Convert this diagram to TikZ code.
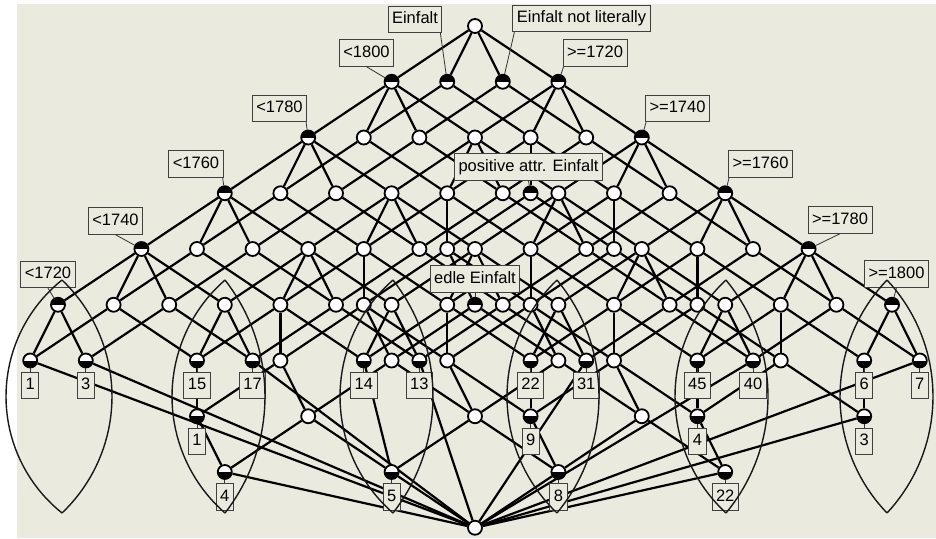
\documentclass[tikz,border=0pt]{standalone}
\usepackage{fontspec}
\setmainfont{Liberation Sans}
\pgfdeclarelayer{back}
\pgfdeclarelayer{edges}
\pgfsetlayers{back,edges,main}
% one pointed lens: top x, left bulge, right bulge
\newcommand\drawlens[3]{%
  \pgfmathsetmacro\rL{(116.5/#2*116.5+#2)/2}%
  \pgfmathsetmacro\aL{asin(116.5/\rL)}%
  \pgfmathsetmacro\rR{(116.5/#3*116.5+#3)/2}%
  \pgfmathsetmacro\aR{asin(116.5/\rR)}%
  \draw[lensline] plot[domain=-\aL:\aL,samples=41] ({#1+\rL-#2-\rL*cos(\x)},{396.5+\rL*sin(\x)});
  \draw[lensline] plot[domain=-\aR:\aR,samples=41] ({#1-\rR+#3+\rR*cos(\x)},{396.5+\rR*sin(\x)});
}
\begin{document}
\begin{tikzpicture}[x=1pt,y=-1pt]
\definecolor{paper}{RGB}{234,234,222}
\tikzset{
  conc/.style={circle, draw=black, line width=1.8pt, fill=white, minimum size=14pt, inner sep=0pt},
  attrc/.style={path picture={\fill[black] (path picture bounding box.west) rectangle (path picture bounding box.north east);}},
  objc/.style={path picture={\fill[black] (path picture bounding box.south west) rectangle (path picture bounding box.east);}},
  edge/.style={line width=2.2pt, black},
  tag/.style={draw=black!75, line width=0.9pt, fill=paper, font=\fontsize{16.5pt}{18pt}\selectfont,
    inner xsep=4pt, inner ysep=0pt, text height=12pt, text depth=3.5pt, minimum height=26.5pt},
  tagline/.style={line width=0.8pt, black!80},
  lensline/.style={line width=1.4pt, black!90},
  % attribute concepts
  st-O15/.style=attrc, st-O14/.style=attrc, st-O13/.style=attrc, st-O12/.style=attrc, st-O11/.style=attrc,
  st-O26/.style=attrc, st-O36/.style=attrc, st-O46/.style=attrc, st-O56/.style=attrc, st-O66/.style=attrc,
  st-E16/.style=attrc, st-N16/.style=attrc, st-P26/.style=attrc, st-D25/.style=attrc,
  % object concepts
  st-E11/.style=objc, st-N11/.style=objc,
  st-E22/.style=objc, st-N22/.style=objc, st-P22/.style=objc, st-D22/.style=objc,
  st-E33/.style=objc, st-N33/.style=objc, st-D33/.style=objc,
  st-E44/.style=objc, st-N44/.style=objc, st-P44/.style=objc, st-D44/.style=objc,
  st-E55/.style=objc, st-N55/.style=objc, st-P55/.style=objc, st-D55/.style=objc,
  st-E66/.style=objc, st-N66/.style=objc, st-P66/.style=objc,
}
\useasboundingbox (0,0) rectangle (936,538);
\begin{pgfonlayer}{back}
  \fill[white] (0,0) rectangle (936,538);
  \fill[paper] (17,4) rectangle (936,538);
\end{pgfonlayer}

% concepts: time interval [i,j] combined with O (none), E, N, P (E+P), D (E+P+D)
\def\skipkey{P33}
\foreach \S/\dk/\dr/\lo/\hi in {O/0/0/1/6, E/-1/1/1/6, N/1/1/1/6, P/-1/2/2/6, D/0/3/2/5}{
  \foreach \i in {\lo,...,\hi}{
    \foreach \j in {\i,...,\hi}{
      \edef\key{\S\i\j}%
      \ifx\key\skipkey\else
        \pgfmathsetmacro\xx{475+27.8*(3*(\i+\j-7)+(\dk))}%
        \pgfmathsetmacro\yy{26+55.75*(5-\j+\i+(\dr))}%
        \edef\mk{\noexpand\node[conc,st-\key/.try] (c\key) at (\xx,\yy) {};}%
        \mk
      \fi
    }
  }
}
\node[conc] (bot) at (475,527.75) {};

\begin{pgfonlayer}{edges}
  \foreach \S in {O,E,N}{
    \foreach \i in {1,...,6}{
      \foreach \j in {\i,...,6}{
        \pgfmathtruncatemacro\im{\i-1}%
        \pgfmathtruncatemacro\jp{\j+1}%
        \ifnum\i>1 \draw[edge] (c\S\i\j) -- (c\S\im\j); \fi
        \ifnum\j<6 \draw[edge] (c\S\i\j) -- (c\S\i\jp); \fi
      }
    }
  }
  \foreach \S in {E,N}{
    \foreach \i in {1,...,6}{
      \foreach \j in {\i,...,6}{
        \draw[edge] (c\S\i\j) -- (cO\i\j);
      }
    }
  }
  \foreach \i in {2,...,6}{
    \foreach \j in {\i,...,6}{
      \pgfmathtruncatemacro\im{\i-1}%
      \pgfmathtruncatemacro\jp{\j+1}%
      \ifnum\i\j=33 \else
        \draw[edge] (cP\i\j) -- (cE\i\j);
        \ifnum\i>2 \draw[edge] (cP\i\j) -- (cP\im\j); \fi
        \ifnum\j<6 \draw[edge] (cP\i\j) -- (cP\i\jp); \fi
      \fi
    }
  }
  \foreach \i in {2,...,5}{
    \foreach \j in {\i,...,5}{
      \pgfmathtruncatemacro\im{\i-1}%
      \pgfmathtruncatemacro\jp{\j+1}%
      \ifnum\i\j=33 \draw[edge] (cD33) -- (cE33); \else \draw[edge] (cD\i\j) -- (cP\i\j); \fi
      \ifnum\i>2 \draw[edge] (cD\i\j) -- (cD\im\j); \fi
      \ifnum\j<5 \draw[edge] (cD\i\j) -- (cD\i\jp); \fi
    }
  }
  \foreach \p in {1,...,6} { \draw[edge] (bot) -- (cN\p\p); }
  \foreach \p in {2,...,5} { \draw[edge] (bot) -- (cD\p\p); }
  \draw[edge] (bot) -- (cE11);
  \draw[edge] (bot) -- (cP66);
\end{pgfonlayer}

% attribute labels
\node[tag] (aE) at (415,19.5) {Einfalt};
\node[tag] (aN) at (581.5,18.5) {Einfalt not literally};
\node[tag] (a1800) at (366.5,53) {<1800};
\node[tag] (g1720) at (595,53) {>=1720};
\node[tag] (a1780) at (279.5,108.5) {<1780};
\node[tag] (g1740) at (677.5,108.5) {>=1740};
\node[tag] (a1760) at (196,164) {<1760};
\node[tag] (g1760) at (760.5,164) {>=1760};
\node[tag] (aP) at (528.5,167) {positive attr. Einfalt};
\node[tag] (a1740) at (115.5,221) {<1740};
\node[tag] (g1780) at (840,220) {>=1780};
\node[tag] (a1720) at (48,274.5) {<1720};
\node[tag] (g1800) at (896.5,274) {>=1800};
\node[tag] (aD) at (475,279) {edle Einfalt};

\draw[tagline] ([xshift=-2pt]aE.south east) -- (cE16);
\draw[tagline] ([xshift=2pt]aN.south west) -- (cN16);
\draw[tagline] (a1800.south) -- (cO15);
\draw[tagline] ([xshift=1pt]g1720.south west) -- (cO26);
\draw[tagline] ([xshift=-1pt]a1780.south east) -- (cO14);
\draw[tagline] ([xshift=1pt]g1740.south west) -- (cO36);
\draw[tagline] ([xshift=-1pt]a1760.south east) -- (cO13);
\draw[tagline] ([xshift=1pt]g1760.south west) -- (cO46);
\draw[tagline] (aP.south) -- (cP26);
\draw[tagline] (a1740.south) -- (cO12);
\draw[tagline] (g1780.south) -- (cO56);
\draw[tagline] (a1720.south) -- (cO11);
\draw[tagline] (g1800.south) -- (cO66);
\draw[tagline] (aD.south) -- (cD25);

% object counts
\foreach \cn/\t in {cE11/1, cN11/3, cE22/15, cN22/17, cP22/1, cD22/4,
    cE33/14, cN33/13, cD33/5, cE44/22, cN44/31, cP44/9, cD44/8,
    cE55/45, cN55/40, cP55/4, cD55/22, cE66/6, cN66/7, cP66/3}{
  \node[tag] (t\cn) at ([yshift=-25pt]\cn) {\t};
  \draw[tagline] (\cn) -- (t\cn);
}

% period lenses
\drawlens{62}{56}{50}
\drawlens{225}{53}{40}
\drawlens{393}{53}{40}
\drawlens{557}{50}{42}
\drawlens{726}{51}{42}
\drawlens{887}{47}{46}
\end{tikzpicture}
\end{document}
